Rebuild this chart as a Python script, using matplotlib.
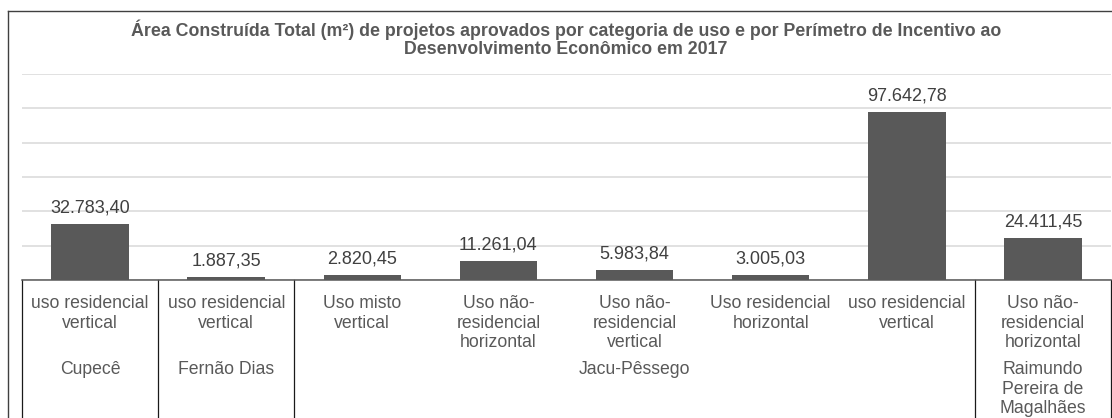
import numpy as np
import matplotlib.pyplot as plt
from matplotlib.lines import Line2D
import matplotlib.transforms as mtransforms

plt.rcParams['font.family'] = ['Liberation Sans', 'DejaVu Sans']

# Área construída total (m²) por categoria de uso
usos = [
    "uso residencial\nvertical",
    "uso residencial\nvertical",
    "Uso misto\nvertical",
    "Uso não-\nresidencial\nhorizontal",
    "Uso não-\nresidencial\nvertical",
    "Uso residencial\nhorizontal",
    "uso residencial\nvertical",
    "Uso não-\nresidencial\nhorizontal",
]
area = [32783.40, 1887.35, 2820.45, 11261.04, 5983.84, 3005.03, 97642.78, 24411.45]

# Perímetros e quantas categorias cada um agrupa
perimetros = ["Cupecê", "Fernão Dias", "Jacu-Pêssego", "Raimundo\nPereira de\nMagalhães"]
n_por_perimetro = [1, 1, 5, 1]

titulo = ("Área Construída Total (m²) de projetos aprovados por categoria de uso e por Perímetro de Incentivo ao\n"
          "Desenvolvimento Econômico em 2017")

GRAY = "#595959"


def fmt_br(v):
    s = f"{v:,.2f}"
    return s.replace(",", "X").replace(".", ",").replace("X", ".")


W, H = 1112, 418
fig = plt.figure(figsize=(W / 100, H / 100), dpi=100)
ax = fig.add_axes([22 / W, (H - 280) / H, 1089 / W, 206 / H])

x = np.arange(len(area))
ax.bar(x, area, width=0.57, color=GRAY, zorder=3)
ax.set_xlim(-0.5, len(area) - 0.5)
ax.set_ylim(0, 120000)
ax.set_yticks(np.arange(0, 120001, 20000))
ax.yaxis.grid(True, color="#d9d9d9", lw=1.1)
ax.set_axisbelow(True)
ax.tick_params(left=False, bottom=False, labelleft=False, labelbottom=False)
for side in ("left", "right", "top"):
    ax.spines[side].set_visible(False)
ax.spines["bottom"].set_color(GRAY)
ax.spines["bottom"].set_linewidth(1.1)
ax.spines["bottom"].set_zorder(4)

# rótulos de valor
for xi, v in zip(x, area):
    ax.annotate(fmt_br(v), (xi, v), xytext=(0, 11.5), textcoords="offset points",
                ha="center", va="center", fontsize=13, color="#404040")

# rótulos das categorias
for xi, lab in zip(x, usos):
    ax.annotate(lab, (xi, 0), xytext=(0, -11), textcoords="offset points",
                ha="center", va="top", fontsize=12.7,
                color=GRAY, linespacing=1.2, annotation_clip=False)

# perímetros e separadores
trans = mtransforms.blended_transform_factory(ax.transData, ax.transAxes)
bordas = np.concatenate([[0], np.cumsum(n_por_perimetro)]) - 0.5
for b in bordas:
    ax.plot([b, b], [0, -1.5], transform=trans, color="#1a1a1a", lw=0.9, clip_on=False)
for i, nome in enumerate(perimetros):
    centro = (bordas[i] + bordas[i + 1]) / 2
    ax.annotate(nome, (centro, 0), xytext=(0, -58.5), textcoords="offset points",
                ha="center", va="top", fontsize=12.7, color=GRAY,
                linespacing=1.2, annotation_clip=False)

fig.text(566 / W, (H - 39) / H, titulo, ha="center", va="center", fontsize=12.8,
         fontweight="bold", color=GRAY, linespacing=1.05)

# moldura do gráfico
fig.add_artist(Line2D([7.5 / W, 7.5 / W], [-0.1, (H - 10.5) / H], color="#404040", lw=1))
fig.add_artist(Line2D([7.5 / W, 1.1], [(H - 10.5) / H, (H - 10.5) / H], color="#404040", lw=1))

fig.savefig("out.png", dpi=100)
